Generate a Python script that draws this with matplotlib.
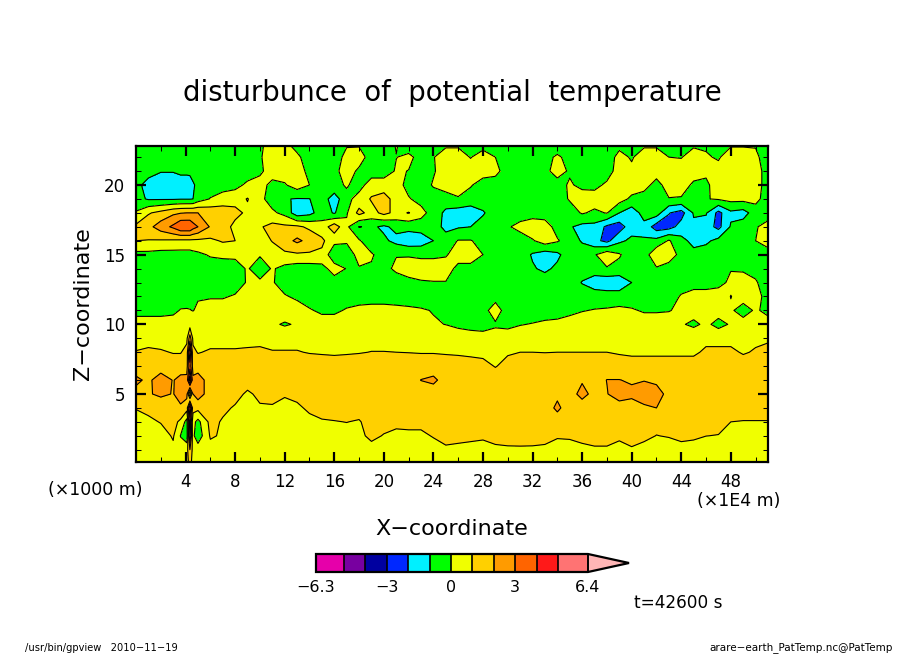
# -*- coding: utf-8 -*-
import numpy as np
import matplotlib
matplotlib.use("Agg")
import matplotlib.pyplot as plt

plt.rcParams['font.family'] = ['DejaVu Sans']

# x in 1E4 m, extra columns around the narrow spike near x=4.35
x_coord = [0, 1, 2, 3, 3.6, 4.1, 4.35, 4.6, 5] + list(range(6, 52))
z_coord = [22.8, 22, 21, 20, 19, 18, 17, 16, 15, 14, 13, 12, 11, 10, 9, 8, 7, 6, 5, 4, 3, 2, 1, 0.12]

# values, one row per z, top row first
theta = [
 [-.5,-.5,-.5,-.5, -.5,-.5,-.5,-.5,-.5, -.5,-.5,-.5,-.5,-.2,.5,.3,-.3,-.5,-.5, -.5,-.05,-.05,-.5,-.5,.05,-.4,-.5,-.1,-.1, -.1,-.3,-.3,-.4,-.5,-.5,-.5,-.4,-.3,-.4, -.5,-.5,-.5,-.2,-.4,-.1,-.1,-.3,-.3,-.1, -.1,-.4,-.05,-.05,-.05,-.5],
 [-.5,-.5,-.5,-.5, -.5,-.5,-.5,-.5,-.5, -.5,-.5,-.5,-.5,-.1,.5,.5,.2,-.5,-.1, -.5,.3,.5,-.5,-.5,-.02,.2,-.3,-.05,.5, .5,-.05,.5,0,-.5,-.5,-.5,-.2,.1,-.2, -.5,-.5,-.5,.3,-.1,.5,.5,0,-.05,.5, .1,-.1,.5,.5,.2,-.5],
 [-.5,-.5,-.95,-.95, -.8,-.8,-.75,-.7,-.55, -.5,-.5,-.5,-.5,-.2,.5,.5,.5,-.3,-.5, -.3,.5,-.2,-.5,-.5,.1,-.02,-.5,-.1,.5, .5,.5,.5,.3,-.5,-.5,-.5,-.2,.3,-.1, -.5,-.5,-.5,.5,.2,.5,.5,.5,.5,.5, .2,.3,.5,.5,.5,-.5],
 [-.6,-1.5,-1.5,-1.5, -1.5,-1.5,-1.5,-1.1,-.8, -.5,-.5,-.3,.2,.4,-.3,-.1,.5,0,-.5, -.3,.1,-.4,.5,.5,.5,-.4,-.5,.1,.5, .5,.1,-.5,-.5,-.5,-.5,-.5,-.5,-.3,.1, -.2,-.3,.2,.5,.5,.4,-.4,.5,.5,-.2, -.2,.5,.5,.5,.5,-.5],
 [-.7,-1.1,-1.1,-1.1, -1.05,-1.05,-1.05,-1.0,-.5, .05,.5,.6,1.05,.3,-.5,-.95,-1.05,-1.02,-.5, -1.5,-.3,.4,1.1,1.4,.6,.1,-.4,-.5,-.5, -.1,-.5,-.5,-.5,-.5,-.5,-.5,-.5,-.5,.1, .4,.5,.5,.4,-.2,-.5,-.05,-.05,-.1,-.4, -.05,.1,.3,.3,.3,-.5],
 [.1,.9,1.3,1.8, 1.95,2.0,2.0,2.0,2.0, 1.7,1.5,1.3,.8,.5,.2,-.3,-1.6,-1.3,-.5, -1.1,-.1,1.3,.6,1.3,.7,1.05,.4,-.5,-1.2, -1.5,-1.5,-1.1,-.5,-.5,-.5,-.5,-.5,-.6,-.5, .1,-.2,.05,-1.0,-1.6,-.6,-.5,-1.95,-2.4,-.9, -.9,-2.3,-1.2,-1.4,-.5,-.5],
 [1.2,1.7,2.5,3.2, 3.9,3.9,3.9,3.4,3.0, 1.9,1.5,.7,.5,.9,1.3,1.2,1.2,.8,.4, 1.6,.2,-1.05,-.8,-1.2,-.7,-.7,-.6,-.5,-1.3, -1.1,-1.0,-.6,-.4,-.1,.3,.7,.5,-.4,-.9, -1.3,-1.3,-2.2,-2.5,-1.4,-1.3,-2.5,-2.4,-1.6,-1.2, -1.5,-2.3,-.9,-.5,-.1,.4],
 [1.0,.95,.9,.85, .8,.8,.8,.8,.8, .8,1.1,1.0,.5,.5,1.05,1.6,2.2,1.7,1.2, .3,.2,.1,-.6,-.8,-1.3,-1.6,-1.5,-1.0,-.5, .05,.05,-.3,-.5,-.5,-.5,-.1,.5,.1,-.5, -1.1,-1.7,-2.3,-1.2,-.8,-.9,-.7,.1,-.7,-1.3, -1.2,-.7,-.5,-.5,0,.5],
 [-.3,-.3,-.4,-.4, -.4,-.4,-.4,-.3,-.2, .1,.2,.2,.3,.1,.5,.8,.85,.85,.8, -.8,-.8,.5,.1,-.4,-.05,-.1,-.2,-.2,-.1, .5,.5,0,-.5,-.5,-.5,-1.1,-1.5,-1.2,-.5, -.5,-.1,.7,.1,-.5,-.5,.8,.5,-.3,-.7, -.5,-.5,-.5,-.5,-.5,-.5],
 [-.5,-.5,-.5,-.5, -.5,-.5,-.5,-.5,-.5, -.5,-.5,-.4,.1,-.6,.1,-.3,-.5,-.5,-.4, .5,-.05,-.1,-.1,-.3,.2,.5,.5,.5,.5, -.3,-.3,-.5,-.5,-.5,-.5,-.9,-1.2,-.8,-.5, -.6,-.5,-.1,-.3,-.5,-.5,-.1,-.4,-.5,-.5, -.5,-.5,-.05,-.1,-.3,-.5],
 [-.5,-.5,-.5,-.5, -.5,-.5,-.5,-.5,-.5, -.5,-.5,-.5,.1,.2,.1,-.5,-.5,-.5,-.5, -.5,-.5,-.5,-.5,-.5,-.5,-.3,-.1,-.05,-.05, -.5,-.5,-.5,-.5,-.5,-.5,-.5,-.5,-.5,-.5, -1.05,-1.5,-1.7,-1.7,-1.0,-.5,-.5,-.5,-.5,-.5, -.5,-.3,.2,.3,.1,-.5],
 [-.5,-.5,-.5,-.5, -.4,-.3,-.2,-.1,-.05, -.1,-.1,.1,.5,.5,.5,.1,-.2,-.5,-.5, -.5,-.5,-.5,-.5,-.5,-.5,-.5,-.5,-.5,-.5, -.5,-.5,-.4,-.3,-.5,-.5,-.5,-.5,-.5,-.5, -.5,-.5,-.5,-.5,-.5,-.5,-.5,-.5,.1,.5, .5,.5,-.02,.3,.3,-.3],
 [-.3,-.3,-.3,-.2, .05,.05,.02,-.02,.1, .5,.5,.5,.5,.5,.5,.5,.5,.1,-.2, -.2,.1,.3,.4,.4,.3,.2,.1,-.05,-.2, -.5,-.5,-.3,.4,-.4,-.5,-.5,-.5,-.5,-.3, -.05,.05,.1,.2,.1,-.1,-.1,-.05,.2,.4, .5,.4,.1,-.3,.1,-.2],
 [.4,.4,.4,.4, .4,.4,.5,.4,.4, .5,.5,.5,.1,.1,.15,-.1,.1,.4,.5, .5,.5,.5,.5,.5,.4,.3,.2,.1,-.02, -.2,-.3,-.3,-.1,-.2,-.05,.05,.2,.3,.5, .5,.5,.5,.5,.5,.5,.5,.5,.1,-.2, .2,-.3,.1,.3,.3,.3],
 [.6,.6,.6,.6, .7,.8,2.5,.8,.7, .7,.7,.7,.7,.7,.7,.7,.7,.7,.7, .7,.7,.7,.7,.7,.7,.7,.7,.7,.7, .5,.4,.3,.3,.4,.6,.7,.7,.7,.7, .7,.7,.7,.6,.6,.6,.6,.6,.6,.7, .7,.7,.7,.7,.8,.9],
 [1.05,1.2,1.1,.95, .95,1.3,5,1.2,.95, 1.1,1.1,1.1,1.15,1.2,1.05,1.05,1.05,.95,.9, .85,.9,.95,1.02,1.02,1.0,.98,.95,.95,.9, .85,.8,.75,.7,.9,1.0,1.0,.98,1.0,1.0, 1.0,1.0,1.0,.9,.8,.8,.8,.8,.8,.8, 1.2,1.2,1.2,.9,1.1,1.2],
 [1.5,1.5,1.5,1.5, 1.5,1.7,3.6,1.6,1.5, 1.5,1.5,1.5,1.5,1.5,1.5,1.5,1.5,1.5,1.5, 1.5,1.5,1.5,1.5,1.5,1.5,1.5,1.5,1.5,1.5, 1.5,1.4,1.3,.95,1.3,1.5,1.5,1.5,1.5,1.5, 1.5,1.5,1.5,1.5,1.5,1.5,1.5,1.5,1.5,1.5, 1.5,1.5,1.5,1.5,1.5,1.5],
 [2.2,1.8,2.5,1.95, 2.3,2.2,5.5,2.2,2.5, 1.5,1.5,1.5,1.4,1.4,1.5,1.5,1.5,1.5,1.5, 1.5,1.5,1.5,1.5,1.5,1.5,1.5,2.02,2.2,1.6, 1.5,1.5,1.5,1.5,1.5,1.5,1.5,1.5,1.5,1.5, 1.9,1.6,2.02,2.02,1.9,1.95,1.8,1.5,1.5,1.5, 1.5,1.5,1.5,1.5,1.5,1.5],
 [1.7,1.9,2.2,1.95, 2.5,2.3,-1,2.0,2.5, 1.5,1.4,1.3,.85,1.2,1.3,1.1,1.3,1.3,1.4, 1.5,1.5,1.5,1.5,1.5,1.5,1.5,1.5,1.5,1.5, 1.5,1.5,1.5,1.5,1.5,1.5,1.5,1.6,1.8,1.6, 2.3,1.7,1.95,2.5,2.2,2.6,2.4,1.7,1.5,1.5, 1.5,1.5,1.5,1.5,1.5,1.5],
 [1.05,1.25,1.3,1.5, 1.8,1.4,5,1.4,1.3, 1.3,1.2,.9,.7,.9,.9,.7,.8,1.2,1.4, 1.5,1.5,1.5,1.5,1.5,1.5,1.5,1.5,1.5,1.5, 1.5,1.5,1.5,1.5,1.5,1.5,1.5,1.5,2.2,1.5, 1.5,1.5,1.5,1.5,1.6,1.8,2.0,1.5,1.5,1.5, 1.5,1.5,1.5,1.5,1.5,1.5],
 [.6,.8,1.05,1.3, .8,-.4,3.5,.3,-.3, 1.3,.9,.6,.5,.5,.5,.5,.5,.7,.9, .95,1.02,.9,1.5,1.3,1.2,1.2,1.2,1.3,1.4, 1.5,1.5,1.5,1.5,1.5,1.5,1.5,1.5,1.5,1.5, 1.5,1.5,1.5,1.5,1.5,1.5,1.3,1.4,1.5,1.5, 1.4,1.3,1.0,.95,.95,.95],
 [.55,.55,.6,1.1, -.05,-.6,4,.2,-.6, 1.1,.9,.5,.5,.5,.5,.5,.5,.5,.5, .5,.6,.8,1.2,.95,.8,.85,.85,1.05,1.2, 1.27,1.21,1.15,1.31,1.36,1.37,1.36,1.31,1.1,1.13, 1.27,1.37,1.37,1.18,1.39,1.21,.98,1.06,1.21,1.15, 1.01,.97,.7,.7,.7,.7],
 [.5,.5,.5,.8, .5,.6,2,.6,.5, .7,.6,.5,.5,.5,.5,.5,.5,.5,.5, .5,.5,.5,.7,.6,.6,.6,.6,.7,.9, .77,.71,.65,.81,.86,.87,.86,.81,.6,.63, .77,.87,.87,.68,.89,.71,.5,.56,.71,.65, .51,.5,.5,.5,.5,.5],
 [.5,.5,.5,.5, .5,.5,1.5,.5,.5, .5,.5,.5,.5,.5,.5,.5,.5,.5,.5, .5,.5,.5,.5,.5,.5,.5,.5,.5,.5, .5,.5,.5,.5,.5,.5,.5,.5,.5,.5, .5,.5,.5,.5,.5,.5,.5,.5,.5,.5, .5,.5,.5,.5,.5,.5],
]

levels = [-6.3, -5, -4, -3, -2, -1, 0, 1, 2, 3, 4, 5, 6.4]
colors = ['#e600aa', '#7800a0', '#0000a0', '#0028ff', '#00f0ff', '#00ff00',
          '#f0ff00', '#ffd000', '#ff9b00', '#ff6400', '#ff1919', '#ff7373']
over_color = '#ffb6b6'
cbar_ticks = [-6.3, -3, 0, 3, 6.4]
cbar_labels = ['\u22126.3', '\u22123', '0', '3', '6.4']
x_major = list(range(4, 52, 4))
x_minor = list(range(2, 52, 4))
z_major = [5, 10, 15, 20]
z_minor = [1, 2, 3, 4, 6, 7, 8, 9, 11, 12, 13, 14, 16, 17, 18, 19, 21, 22]

W, H = 904, 654
fig = plt.figure(figsize=(W/100, H/100), dpi=100, facecolor='white')

ax = fig.add_axes([136/W, 1-462/H, 632/W, 316/H])
X, Z = np.meshgrid(x_coord, z_coord)
F = np.array(theta)

cf = ax.contourf(X, Z, F, levels=levels, colors=colors, extend='max', antialiased=False)
cf.cmap.set_over(over_color)
ax.contour(X, Z, F, levels=levels, colors='k', linewidths=0.8, linestyles='solid')

ax.set_xlim(0, 51)
ax.set_ylim(0.12, 22.8)
ax.set_xticks(x_major)
ax.set_xticks(x_minor, minor=True)
ax.set_yticks(z_major)
ax.set_yticks(z_minor, minor=True)
ax.tick_params(which='major', direction='in', length=7.2, width=1.6, top=True, right=True,
               labelsize=12, pad=8)
ax.tick_params(which='minor', direction='in', length=3.6, width=0.75, top=True, right=True)
for s in ax.spines.values():
    s.set_linewidth(1.6)

# axis labels and captions sit at pixel positions of the original
def put(px, py, s, size, **kw):
    fig.text(px/W, 1-py/H, s, fontsize=size, va='center', **kw)

put(452, 93, 'disturbunce  of  potential  temperature', 19.8, ha='center')
put(452, 529, 'X\u2212coordinate', 16, ha='center')
put(83, 304, 'Z\u2212coordinate', 16, ha='center', rotation=90)
put(95, 490, '(\u00d71000 m)', 12.5, ha='center')
put(739, 501, '(\u00d71E4 m)', 12.5, ha='center')
put(678, 603, 't=42600 s', 12.2, ha='center')
put(25, 648, '/usr/bin/gpview   2010\u221211\u221219', 7.1, ha='left')
put(893, 648, 'arare\u2212earth_PatTemp.nc@PatTemp', 7.5, ha='right')

# colour bar with the pointed end on the right
cax = fig.add_axes([316/W, 1-572/H, 313/W, 18/H])
cb = fig.colorbar(cf, cax=cax, orientation='horizontal', ticks=cbar_ticks,
                  spacing='proportional', extendfrac=41/272, drawedges=True)
cb.ax.set_xticklabels(cbar_labels)
cb.ax.tick_params(length=0, labelsize=11.5, pad=6)
cb.outline.set_linewidth(1.6)
cb.dividers.set_linewidth(1.2)
cb.dividers.set_color('k')

fig.savefig('out.png', dpi=100)
